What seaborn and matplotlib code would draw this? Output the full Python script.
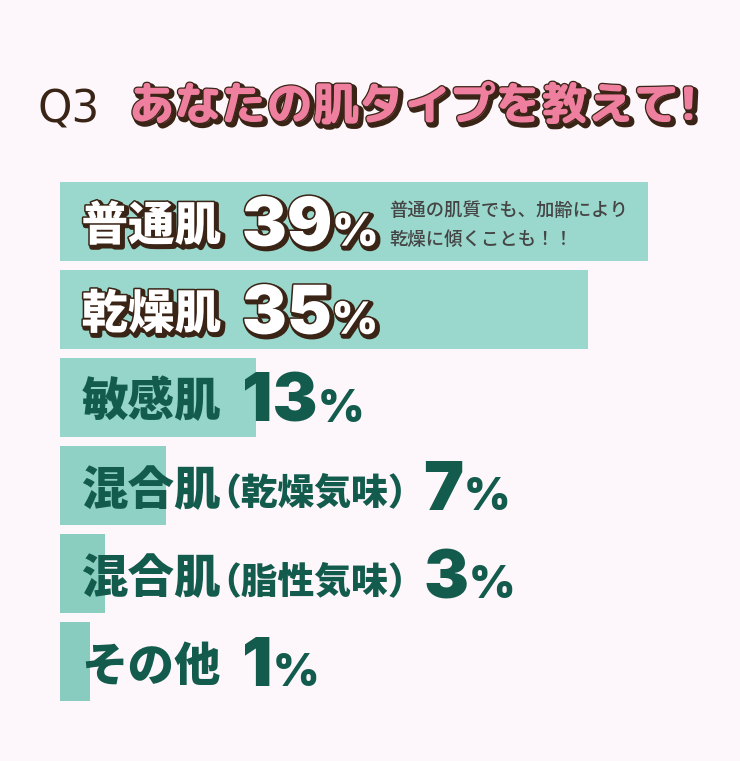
import matplotlib
matplotlib.use("Agg")
import matplotlib.pyplot as plt
import matplotlib.patheffects as pe
import numpy as np
import seaborn as sns

# ---------------- data ----------------
label_main = ["普通肌", "乾燥肌", "敏感肌", "混合肌", "混合肌", "その他"]
label_sub = ["", "", "", "（乾燥気味）", "（脂性気味）", ""]
values = [39, 35, 13, 7, 3, 1]
title_q = "Q3"
title_text = "あなたの肌タイプを教えて!"
note_lines = ["普通の肌質でも、加齢により", "乾燥に傾くことも！！"]

categories = [m + s for m, s in zip(label_main, label_sub)]
# smallest bars are drawn with a minimum visible length of 2 units
bar_len = np.maximum(values, 2)

# ---------------- style ----------------
BG = "#FDF7FC"
BAR_COLORS = ["#9AD8CD", "#9AD8CD", "#96D5C9", "#8FD1C4", "#8ACEC0", "#87CCBE"]
GREEN = "#135C4D"
DARK = "#3A2416"
PINK = "#EE7F9F"
JP = "Noto Sans CJK JP"
NUM = "Inter"

W, H = 740, 761
PX_PER_UNIT = 15.08      # pixels per percent
X0 = 60                  # pixel of zero
ROW0, ROW_PITCH = 221, 88.1

fig = plt.figure(figsize=(W / 100, H / 100), dpi=100, facecolor=BG)
ax = fig.add_axes([0, 0, 1, 1])
ax.set_facecolor(BG)

sns.barplot(x=bar_len, y=categories, hue=categories, palette=BAR_COLORS,
            orient="h", width=79 / ROW_PITCH, saturation=1, legend=False,
            linewidth=0, ax=ax)

ax.set_xlim(-X0 / PX_PER_UNIT, (W - X0) / PX_PER_UNIT)
ax.set_ylim((H - ROW0) / ROW_PITCH, -ROW0 / ROW_PITCH)
ax.axis("off")

white_fx = [pe.Stroke(linewidth=4.0, foreground=DARK, offset=(1.6, -1.6)),
            pe.Stroke(linewidth=2.2, foreground=DARK), pe.Normal()]

lab_x = (81.5 - X0) / PX_PER_UNIT
for i, (m, s, v) in enumerate(zip(label_main, label_sub, values)):
    on_bar = i < 2
    col = "white" if on_bar else GREEN
    fx = white_fx if on_bar else None
    yb_lab = i + 0.22
    yb_num = i + 0.28
    t = ax.text(lab_x, yb_lab, m, fontsize=33.5, family=JP, weight=900,
                color=col, va="baseline", ha="left", path_effects=fx)
    prev = t
    gap = 15
    if s:
        prev = ax.annotate(s, xy=(1, yb_lab), xycoords=(t, "data"),
                           xytext=(-12, 0), textcoords="offset points",
                           fontsize=26.5, family=JP, weight=900, color=col,
                           va="baseline", ha="left", path_effects=fx)
        gap = -1
    num = ax.annotate(str(v), xy=(1, yb_num), xycoords=(prev, "data"),
                      xytext=(gap, 0), textcoords="offset points",
                      fontsize=48.5, family=NUM, weight=900, color=col,
                      va="baseline", ha="left", path_effects=fx)
    pct = ax.annotate("%", xy=(1, yb_num), xycoords=(num, "data"),
                      xytext=(0, 0), textcoords="offset points",
                      fontsize=32, family=NUM, weight=900, color=col,
                      va="baseline", ha="left", path_effects=fx)
    if i == 0:
        note_x = (389 - X0) / PX_PER_UNIT
        for k, line in enumerate(note_lines):
            ax.text(note_x, (215.5 + 29 * k - ROW0) / ROW_PITCH, line,
                    fontsize=13.2, family=JP, weight=500, color="#454545",
                    va="baseline", ha="left")

# ---------------- title ----------------
fig.text(38 / W, 1 - 123 / H, title_q, fontsize=31.5, family="DejaVu Sans",
         color=DARK, va="baseline", ha="left")
fig.text(129 / W, 1 - 120 / H, title_text, fontsize=33,
         family=["Rounded Mplus 1c", JP], weight=800, color=PINK,
         va="baseline", ha="left",
         path_effects=[pe.Stroke(linewidth=3.6, foreground=DARK, offset=(2.0, -2.0)),
                       pe.Stroke(linewidth=1.8, foreground=DARK), pe.Normal()])

fig.savefig("out.png", dpi=100, facecolor=BG)
